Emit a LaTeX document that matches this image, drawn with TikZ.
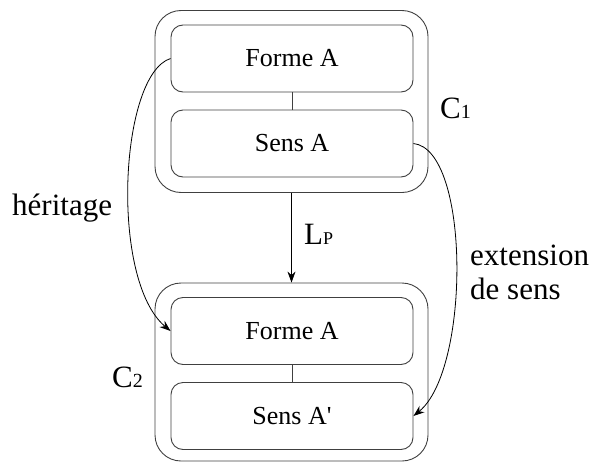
\documentclass[tikz,border=0pt]{standalone}
\usepackage{fontspec}
\setmainfont{Liberation Serif}[Ligatures=TeXOff]
\usetikzlibrary{arrows.meta}
\tikzset{
  innerbox/.style={draw=black!75, line width=0.9pt, rounded corners=12pt,
    minimum width=242pt, minimum height=67pt, font=\fontsize{26}{30}\selectfont},
  outerbox/.style={draw=black!75, line width=0.9pt, rounded corners=26pt, minimum width=273pt},
  lbl/.style={inner sep=0pt, anchor=base west, font=\fontsize{31}{36}\selectfont},
  link/.style={-{Stealth[length=11pt,width=8pt]}, line width=0.8pt},
}
\begin{document}
\begin{tikzpicture}[x=1pt,y=-1pt]
\useasboundingbox (0,0) rectangle (594,463);
%C1
\node[outerbox, minimum height=182pt] (c1) at (291.5,101.5) {};
\node[innerbox] (forme1) at (292,58.5) {Forme A};
\node[innerbox] (sens1) at (292,143.5) {Sens A};
\draw[draw=black!75, line width=0.9pt] (forme1) -- (sens1);
\node[lbl] (c1lbl) at (440,118) {C{\fontsize{20}{20}\selectfont 1}};
%C2
\node[outerbox, minimum height=178pt] (c2) at (291.5,372) {};
\node[innerbox] (forme2) at (292,331) {Forme A};
\node[innerbox] (sens2) at (292,416) {Sens A'};
\draw[draw=black!75, line width=0.9pt] (forme2) -- (sens2);
\node[lbl] (c2lbl) at (112,387) {C{\fontsize{20}{20}\selectfont 2}};
%links
\draw[link] (c1) -- (c2);
\node[lbl] (lp) at (304,244) {L{\fontsize{18}{18}\selectfont P}};
\draw[link] (forme1.west) .. controls +(-51,16) and +(-61,-51) .. (forme2.west);
\node[lbl] (herit) at (12,215) {héritage};
\draw[link] (sens1.east) .. controls +(57,6) and +(57,-46) .. (sens2.east);
\node[lbl] (ext1) at (470,265) {extension};
\node[lbl] (ext2) at (470,299) {de sens};
\end{tikzpicture}
\end{document}
